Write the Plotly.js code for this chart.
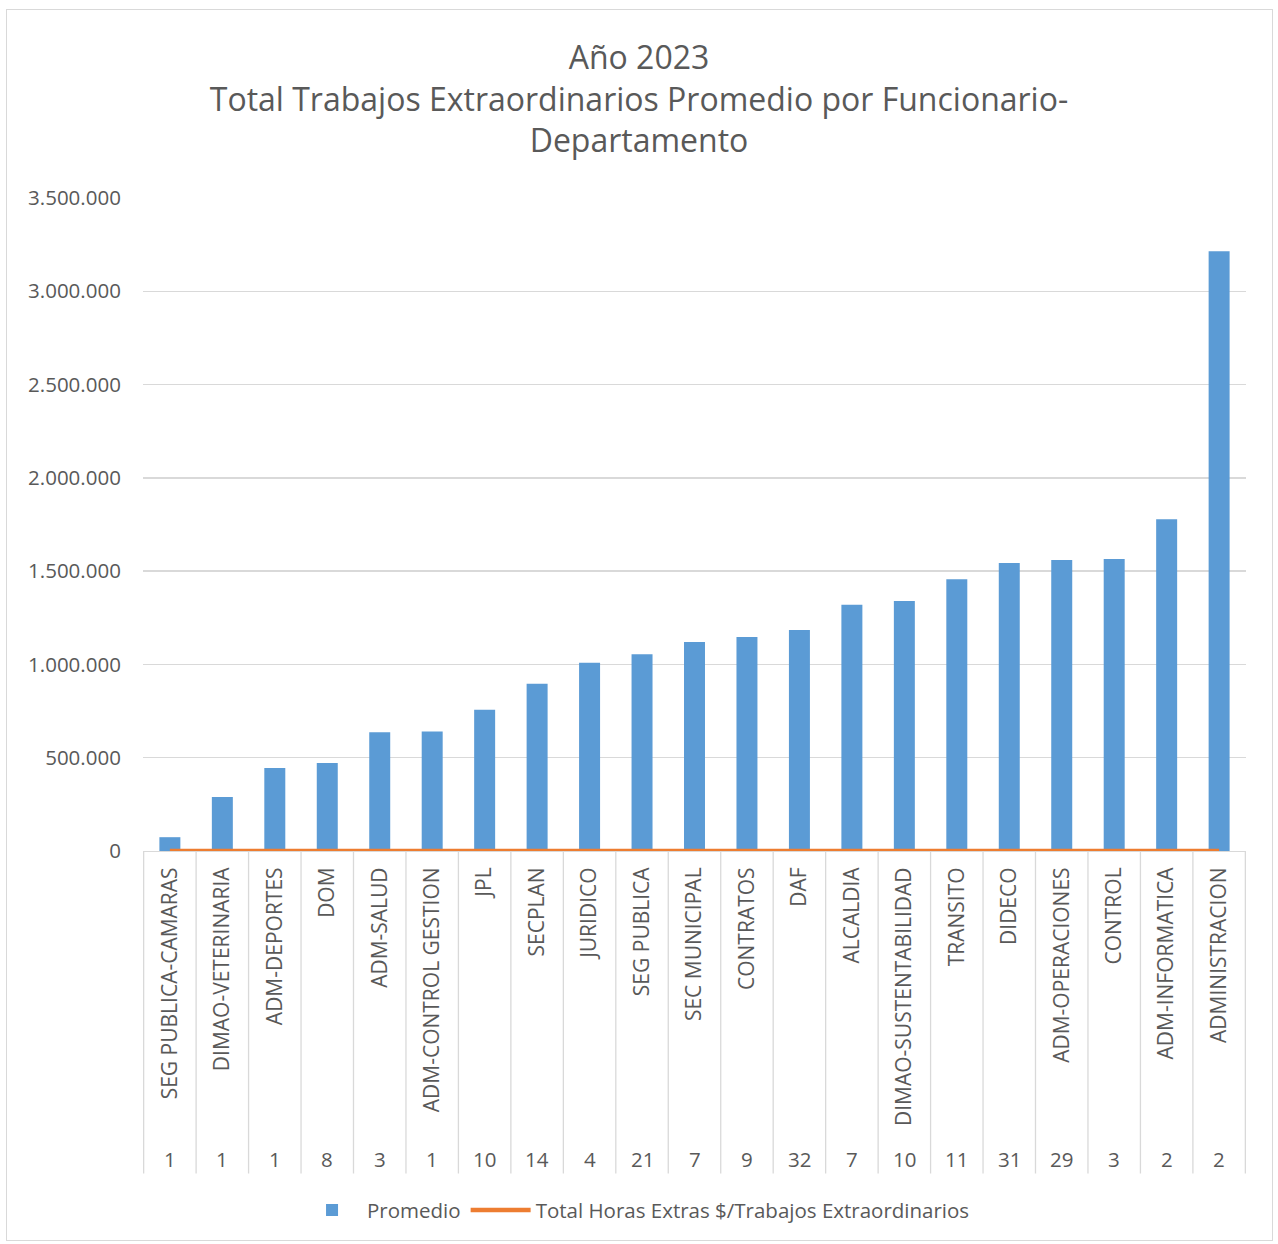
<!DOCTYPE html>
<html>
<head>
<meta charset="utf-8">
<script src="https://cdn.plot.ly/plotly-3.0.1.min.js"></script>
<style>
  html, body { margin: 0; padding: 0; background: #ffffff; }
  #wrap { position: relative; width: 1278px; height: 1244px; }
  #chart { width: 1278px; height: 1244px; }
  #frame { position: absolute; left: 6px; top: 9px; width: 1267px; height: 1232px;
           border: 1px solid #d9d9d9; pointer-events: none; box-sizing: border-box; }
</style>
</head>
<body>
<div id="wrap">
  <div id="chart"></div>
  <div id="frame"></div>
</div>
<script>
// ---- data ----
const departments = [
  "SEG PUBLICA-CAMARAS", "DIMAO-VETERINARIA", "ADM-DEPORTES", "DOM", "ADM-SALUD",
  "ADM-CONTROL GESTION", "JPL", "SECPLAN", "JURIDICO", "SEG PUBLICA",
  "SEC MUNICIPAL", "CONTRATOS", "DAF", "ALCALDIA", "DIMAO-SUSTENTABILIDAD",
  "TRANSITO", "DIDECO", "ADM-OPERACIONES", "CONTROL", "ADM-INFORMATICA", "ADMINISTRACION"
];
const workerCounts = [1, 1, 1, 8, 3, 1, 10, 14, 4, 21, 7, 9, 32, 7, 10, 11, 31, 29, 3, 2, 2];
const promedio = [
  74000, 290000, 445000, 472000, 636000,
  640000, 757000, 897000, 1009000, 1054000,
  1120000, 1147000, 1184000, 1320000, 1340000,
  1456000, 1543000, 1560000, 1565000, 1778000, 3215000
];
const totalHorasRatio = [0, 0, 0, 0, 0, 0, 0, 0, 0, 0, 0, 0, 0, 0, 0, 0, 0, 0, 0, 0, 0];
const yTicks = [0, 500000, 1000000, 1500000, 2000000, 2500000, 3000000, 3500000];

const titleText = "Año 2023<br>Total Trabajos Extraordinarios Promedio por Funcionario-<br>Departamento";
const textColor = "#595959";
const fontFamily = "'Open Sans', 'Noto Sans', sans-serif";

// ---- traces ----
const barTrace = {
  type: "bar",
  name: "Promedio",
  x: departments,
  y: promedio,
  marker: { color: "#5B9BD5" },
  hoverinfo: "x+y"
};
const lineTrace = {
  type: "scatter",
  mode: "lines",
  name: "Total Horas Extras $/Trabajos Extraordinarios",
  x: departments,
  y: totalHorasRatio,
  line: { color: "#ED7D31", width: 4.5 }
};

// ---- decorations derived from the category axis ----
const sepBottom = -0.494;
const shapes = [];
for (let i = 0; i <= departments.length; i++) {
  shapes.push({
    type: "line", xref: "x", yref: "paper",
    x0: i - 0.5, x1: i - 0.5, y0: 0, y1: sepBottom,
    line: { color: "#d9d9d9", width: 1.3 }, layer: "below"
  });
}
const annotations = departments.map((d, i) => ({
  xref: "x", yref: "paper", x: d, y: -0.472,
  text: String(workerCounts[i]), showarrow: false,
  xanchor: "center", yanchor: "middle",
  font: { family: fontFamily, size: 20.5, color: textColor }
}));

const layout = {
  width: 1278, height: 1244,
  paper_bgcolor: "#ffffff", plot_bgcolor: "#ffffff",
  separators: ",.",
  margin: { l: 143, r: 32, t: 198, b: 393 },
  font: { family: fontFamily, color: textColor },
  title: {
    text: titleText,
    x: 0.5, xanchor: "center", xref: "container",
    y: 0.9445, yanchor: "middle", yref: "container",
    font: { family: fontFamily, size: 32, color: textColor }
  },
  bargap: 0.6,
  showlegend: true,
  legend: {
    orientation: "h", x: 0.447, xanchor: "center", y: -0.55, yanchor: "middle",
    font: { family: fontFamily, size: 20.5, color: textColor },
    itemwidth: 60, traceorder: "normal"
  },
  xaxis: {
    type: "category",
    tickangle: -90,
    ticks: "outside", ticklen: 7, tickcolor: "rgba(0,0,0,0)",
    tickfont: { family: fontFamily, size: 21, color: textColor },
    showgrid: false,
    showline: true, linecolor: "#d9d9d9", linewidth: 1,
    zeroline: false,
    automargin: false
  },
  yaxis: {
    range: [0, 3500000],
    tickvals: yTicks,
    tickformat: ",d",
    ticks: "outside", ticklen: 17, tickcolor: "rgba(0,0,0,0)",
    tickfont: { family: fontFamily, size: 20.5, color: textColor },
    showgrid: true, gridcolor: "#d9d9d9", gridwidth: 1.3,
    zeroline: false, showline: false,
    automargin: false
  },
  shapes: shapes,
  annotations: annotations
};

Plotly.newPlot("chart", [barTrace, lineTrace], layout, { displayModeBar: false, staticPlot: true });
</script>
</body>
</html>
